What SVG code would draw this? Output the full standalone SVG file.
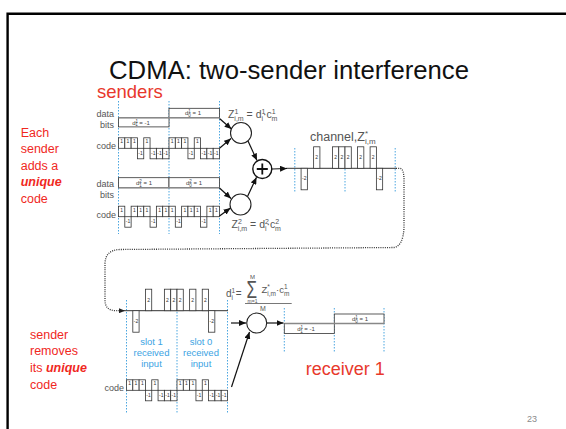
<svg xmlns="http://www.w3.org/2000/svg" width="566" height="429" viewBox="0 0 566 429">
  <style>
    .lbl { font-family: "Liberation Sans", Arial, sans-serif; fill: #555; }
    .red { font-family: "Liberation Sans", Arial, sans-serif; fill: #f0281e; }
    .blue { font-family: "Liberation Sans", Arial, sans-serif; fill: #3ba3e3; font-size: 9.5px; text-anchor: middle; }
    .slotline { stroke: #4ba6e0; stroke-width: 1; stroke-dasharray: 1.5 1.5; fill: none; }
    .box { fill: #fff; stroke: #333; stroke-width: 0.8; }
    .base { stroke: #888; stroke-width: 1.6; }
    .axis { stroke: #333; stroke-width: 1; }
    .tiny { font-family: "Liberation Sans", Arial, sans-serif; font-size: 6px; fill: #444; text-anchor: middle; }
    .arrow { stroke: #111; stroke-width: 1.2; fill: none; marker-end: url(#head); }
    .node { fill: #fff; stroke: #222; stroke-width: 1.1; }
  </style>
  <defs>
    <marker id="head" viewBox="0 0 7 6" refX="7" refY="3" markerWidth="7" markerHeight="6" markerUnits="userSpaceOnUse" orient="auto">
      <path d="M0,0 L7,3 L0,6 z" fill="#111"/>
    </marker>
    <marker id="headS" viewBox="0 0 6 5" refX="6" refY="2.5" markerWidth="6" markerHeight="5" markerUnits="userSpaceOnUse" orient="auto">
      <path d="M0,0 L6,2.5 L0,5 z" fill="#222"/>
    </marker>
    <!-- code chips: +1 above baseline, -1 below -->
    <g id="chipP">
      <rect x="0" y="-10.5" width="6.31" height="10.5" fill="#fff" stroke="#333" stroke-width="0.8"/>
      <text x="3.16" y="-5" font-family="Liberation Sans, Arial, sans-serif" font-size="5" fill="#333" text-anchor="middle">1</text>
    </g>
    <g id="chipN">
      <rect x="0" y="0" width="6.31" height="10.5" fill="#fff" stroke="#333" stroke-width="0.8"/>
      <text x="3.16" y="6.8" font-family="Liberation Sans, Arial, sans-serif" font-size="5" fill="#333" text-anchor="middle">-1</text>
    </g>
    <!-- summed channel chips: +2 / -2 -->
    <g id="barP">
      <rect x="0" y="-21.5" width="6.28" height="21.5" fill="#fff" stroke="#333" stroke-width="0.8"/>
      <text x="3.14" y="-9" font-family="Liberation Sans, Arial, sans-serif" font-size="5" fill="#333" text-anchor="middle">2</text>
    </g>
    <g id="barN">
      <rect x="0" y="0" width="6.28" height="21.5" fill="#fff" stroke="#333" stroke-width="0.8"/>
      <text x="3.14" y="12" font-family="Liberation Sans, Arial, sans-serif" font-size="5" fill="#333" text-anchor="middle">-2</text>
    </g>
  </defs>

  <rect width="566" height="429" fill="#fff"/>
  <path d="M7.6,429 V13.7 H566" stroke="#000" stroke-width="2.4" fill="none"/>

  <text x="289" y="79" text-anchor="middle" font-family="Liberation Sans, Arial, sans-serif" font-size="25" textLength="360" lengthAdjust="spacingAndGlyphs" fill="#111">CDMA: two-sender interference</text>
  <text x="97" y="98" font-family="Liberation Sans, Arial, sans-serif" font-size="18.5" fill="#e8382c">senders</text>

  <g id="note-senders" class="red" font-size="12.5">
    <text x="20.7" y="136.5">Each</text>
    <text x="20.7" y="153">sender</text>
    <text x="20.7" y="169.5">adds a</text>
    <text x="20.7" y="186" font-weight="bold" font-style="italic">unique</text>
    <text x="20.7" y="202.5">code</text>
  </g>
  <g id="note-receiver" class="red" font-size="12.5">
    <text x="30" y="338.5">sender</text>
    <text x="30" y="355.3">removes</text>
    <text x="30" y="372">its <tspan font-weight="bold" font-style="italic">unique</tspan></text>
    <text x="30" y="388.8">code</text>
  </g>

  <!-- slot boundaries -->
  <g id="slot-lines">
    <line class="slotline" x1="118.5" y1="101" x2="118.5" y2="234"/>
    <line class="slotline" x1="169" y1="101" x2="169" y2="234"/>
    <line class="slotline" x1="219.5" y1="101" x2="219.5" y2="234"/>
    <line class="slotline" x1="294.8" y1="148" x2="294.8" y2="193"/>
    <line class="slotline" x1="345" y1="148" x2="345" y2="193"/>
    <line class="slotline" x1="395.2" y1="148" x2="395.2" y2="193"/>
    <line class="slotline" x1="126.5" y1="300" x2="126.5" y2="414"/>
    <line class="slotline" x1="177" y1="300" x2="177" y2="414"/>
    <line class="slotline" x1="227.5" y1="300" x2="227.5" y2="414"/>
    <line class="slotline" x1="284.3" y1="308" x2="284.3" y2="352"/>
    <line class="slotline" x1="334.3" y1="308" x2="334.3" y2="352"/>
    <line class="slotline" x1="384" y1="308" x2="384" y2="352"/>
  </g>

  <!-- sender 1 -->
  <g id="sender1-data">
    <text class="lbl" x="114" y="116.7" font-size="9" text-anchor="end">data</text>
    <text class="lbl" x="114" y="128.3" font-size="9" text-anchor="end">bits</text>
    <rect class="box" x="118.5" y="117.7" width="50.5" height="9.2"/>
    <rect class="box" x="169" y="108.3" width="50.5" height="9.4"/>
    <line class="base" x1="118.5" y1="117.7" x2="219.5" y2="117.7"/>
    <text class="tiny" x="141" y="124.5">d<tspan font-size="4.5" dy="-2">1</tspan><tspan font-size="4.5" dx="-2.5" dy="3.5">1</tspan><tspan dy="-1.5"> = -1</tspan></text>
    <text class="tiny" x="193" y="115">d<tspan font-size="4.5" dy="-2">1</tspan><tspan font-size="4.5" dx="-2.5" dy="3.5">0</tspan><tspan dy="-1.5"> = 1</tspan></text>
  </g>
  <g id="sender1-code">
    <text class="lbl" x="116" y="149.3" font-size="9" text-anchor="end">code</text>
    <use href="#chipP" x="118.5" y="148.3"/><use href="#chipP" x="124.81" y="148.3"/>
    <use href="#chipP" x="131.13" y="148.3"/><use href="#chipN" x="137.44" y="148.3"/>
    <use href="#chipP" x="143.75" y="148.3"/><use href="#chipN" x="150.06" y="148.3"/>
    <use href="#chipN" x="156.38" y="148.3"/><use href="#chipN" x="162.69" y="148.3"/>
    <use href="#chipP" x="169" y="148.3"/><use href="#chipP" x="175.31" y="148.3"/>
    <use href="#chipP" x="181.63" y="148.3"/><use href="#chipN" x="187.94" y="148.3"/>
    <use href="#chipP" x="194.25" y="148.3"/><use href="#chipN" x="200.56" y="148.3"/>
    <use href="#chipN" x="206.88" y="148.3"/><use href="#chipN" x="213.19" y="148.3"/>
  </g>

  <!-- sender 2 -->
  <g id="sender2-data">
    <text class="lbl" x="114" y="186.7" font-size="9" text-anchor="end">data</text>
    <text class="lbl" x="114" y="198.3" font-size="9" text-anchor="end">bits</text>
    <rect class="box" x="118.5" y="177.7" width="50.5" height="10"/>
    <rect class="box" x="169" y="177.7" width="50.5" height="10"/>
    <line class="base" x1="118.5" y1="187.7" x2="219.5" y2="187.7"/>
    <text class="tiny" x="144" y="185">d<tspan font-size="4.5" dy="-2">2</tspan><tspan font-size="4.5" dx="-2.5" dy="3.5">1</tspan><tspan dy="-1.5"> = 1</tspan></text>
    <text class="tiny" x="194" y="185">d<tspan font-size="4.5" dy="-2">2</tspan><tspan font-size="4.5" dx="-2.5" dy="3.5">0</tspan><tspan dy="-1.5"> = 1</tspan></text>
  </g>
  <g id="sender2-code">
    <text class="lbl" x="116" y="218.3" font-size="9" text-anchor="end">code</text>
    <use href="#chipP" x="118.5" y="216.7"/><use href="#chipN" x="124.81" y="216.7"/>
    <use href="#chipP" x="131.13" y="216.7"/><use href="#chipP" x="137.44" y="216.7"/>
    <use href="#chipP" x="143.75" y="216.7"/><use href="#chipN" x="150.06" y="216.7"/>
    <use href="#chipP" x="156.38" y="216.7"/><use href="#chipP" x="162.69" y="216.7"/>
    <use href="#chipP" x="169" y="216.7"/><use href="#chipN" x="175.31" y="216.7"/>
    <use href="#chipP" x="181.63" y="216.7"/><use href="#chipP" x="187.94" y="216.7"/>
    <use href="#chipP" x="194.25" y="216.7"/><use href="#chipN" x="200.56" y="216.7"/>
    <use href="#chipP" x="206.88" y="216.7"/><use href="#chipP" x="213.19" y="216.7"/>
  </g>

  <!-- multipliers and adder -->
  <g id="mult1">
    <circle class="node" cx="241" cy="133" r="10.5"/>
    <text class="lbl" x="228" y="118" font-size="10.5">Z<tspan font-size="7" dy="-4">1</tspan><tspan font-size="7" dx="-4" dy="7">i,m</tspan><tspan dy="-3"> = d</tspan><tspan font-size="7" dy="-4">1</tspan><tspan font-size="7" dx="-4" dy="7">i</tspan><tspan dy="-3">·c</tspan><tspan font-size="7" dy="-4">1</tspan><tspan font-size="7" dx="-4" dy="7">m</tspan></text>
  </g>
  <g id="mult2">
    <circle class="node" cx="240.5" cy="204.5" r="10.5"/>
    <text class="lbl" x="231.5" y="228.3" font-size="10.5">Z<tspan font-size="7" dy="-4">2</tspan><tspan font-size="7" dx="-4" dy="7">i,m</tspan><tspan dy="-3"> = d</tspan><tspan font-size="7" dy="-4">2</tspan><tspan font-size="7" dx="-4" dy="7">i</tspan><tspan dy="-3">·c</tspan><tspan font-size="7" dy="-4">2</tspan><tspan font-size="7" dx="-4" dy="7">m</tspan></text>
  </g>
  <g id="adder">
    <circle cx="262.3" cy="169" r="9.5" fill="#fff" stroke="#111" stroke-width="1.4"/>
    <path d="M256.8,169 H267.8 M262.3,163.5 V174.5" stroke="#111" stroke-width="1.8"/>
  </g>

  <!-- channel -->
  <g id="channel">
    <text class="lbl" x="310" y="141" font-size="12.5">channel,Z<tspan font-size="8" dy="-5">*</tspan><tspan font-size="8" dx="-3" dy="8">i,m</tspan></text>
    <line class="axis" x1="286" y1="168.3" x2="396" y2="168.3"/>
    <use href="#barN" x="301.08" y="168.3"/>
    <use href="#barP" x="313.63" y="168.3"/>
    <use href="#barP" x="332.45" y="168.3"/>
    <use href="#barP" x="338.73" y="168.3"/>
    <use href="#barP" x="345" y="168.3"/>
    <use href="#barP" x="357.55" y="168.3"/>
    <use href="#barP" x="370.1" y="168.3"/>
    <use href="#barN" x="376.38" y="168.3"/>
  </g>

  <!-- receiver input -->
  <g id="receiver-input">
    <line class="axis" x1="124" y1="310.7" x2="228" y2="310.7"/>
    <use href="#barN" x="132.81" y="310.7"/>
    <use href="#barP" x="145.44" y="310.7"/>
    <use href="#barP" x="164.38" y="310.7"/>
    <use href="#barP" x="170.69" y="310.7"/>
    <use href="#barP" x="177" y="310.7"/>
    <use href="#barP" x="189.63" y="310.7"/>
    <use href="#barP" x="202.25" y="310.7"/>
    <use href="#barN" x="208.56" y="310.7"/>
    <text class="blue" x="151.5" y="345">slot 1</text>
    <text class="blue" x="151.5" y="356">received</text>
    <text class="blue" x="151.5" y="366.5">input</text>
    <text class="blue" x="201" y="345">slot 0</text>
    <text class="blue" x="201" y="356">received</text>
    <text class="blue" x="201" y="366.5">input</text>
  </g>
  <g id="receiver-code">
    <text class="lbl" x="124" y="391" font-size="9" text-anchor="end">code</text>
    <use href="#chipP" x="126.5" y="390.3"/><use href="#chipP" x="132.81" y="390.3"/>
    <use href="#chipP" x="139.13" y="390.3"/><use href="#chipN" x="145.44" y="390.3"/>
    <use href="#chipP" x="151.75" y="390.3"/><use href="#chipN" x="158.06" y="390.3"/>
    <use href="#chipN" x="164.38" y="390.3"/><use href="#chipN" x="170.69" y="390.3"/>
    <use href="#chipP" x="177" y="390.3"/><use href="#chipP" x="183.31" y="390.3"/>
    <use href="#chipP" x="189.63" y="390.3"/><use href="#chipN" x="195.94" y="390.3"/>
    <use href="#chipP" x="202.25" y="390.3"/><use href="#chipN" x="208.56" y="390.3"/>
    <use href="#chipN" x="214.88" y="390.3"/><use href="#chipN" x="221.19" y="390.3"/>
  </g>

  <!-- decoder -->
  <g id="decoder">
    <circle class="node" cx="256.7" cy="323" r="10"/>
    <text class="lbl" x="226" y="297" font-size="10">d<tspan font-size="6.5" dy="-4">1</tspan><tspan font-size="6.5" dx="-3.6" dy="6.5">i</tspan><tspan dy="-2.5"> =</tspan></text>
    <text class="lbl" x="252.5" y="279" font-size="6" text-anchor="middle">M</text>
    <text class="lbl" transform="translate(246.5,298) scale(0.95,1.3)" font-size="18">Σ</text>
    <text class="lbl" x="252.5" y="302.8" font-size="5" text-anchor="middle">m=1</text>
    <text class="lbl" x="261.5" y="293" font-size="9.5">Z<tspan font-size="6.5" dy="-4">*</tspan><tspan font-size="6.5" dx="-2.5" dy="6.5">i,m</tspan><tspan dy="-2.5">·c</tspan><tspan font-size="6.5" dy="-4">1</tspan><tspan font-size="6.5" dx="-3.6" dy="6.5">m</tspan></text>
    <line x1="245" y1="303.5" x2="291.7" y2="303.5" stroke="#555" stroke-width="0.8"/>
    <text class="lbl" x="263" y="311" font-size="7" text-anchor="middle">M</text>
  </g>

  <!-- receiver output -->
  <g id="receiver-output">
    <rect class="box" x="284.3" y="323.5" width="50" height="10"/>
    <rect class="box" x="334.3" y="314" width="49.7" height="9.5"/>
    <line class="base" x1="284.3" y1="323.5" x2="384" y2="323.5"/>
    <text class="tiny" x="306" y="331">d<tspan font-size="4.5" dy="-2">1</tspan><tspan font-size="4.5" dx="-2.5" dy="3.5">1</tspan><tspan dy="-1.5"> = -1</tspan></text>
    <text class="tiny" x="360" y="321">d<tspan font-size="4.5" dy="-2">1</tspan><tspan font-size="4.5" dx="-2.5" dy="3.5">0</tspan><tspan dy="-1.5"> = 1</tspan></text>
    <text x="305.7" y="375" font-family="Liberation Sans, Arial, sans-serif" font-size="18" fill="#e8382c">receiver 1</text>
  </g>

  <g id="connectors">
    <line class="arrow" x1="219.5" y1="118.5" x2="231.5" y2="129"/>
    <line class="arrow" x1="219.5" y1="148.3" x2="231" y2="138.5"/>
    <line class="arrow" x1="219.5" y1="188" x2="231" y2="198.5"/>
    <line class="arrow" x1="219.5" y1="216" x2="230.5" y2="208"/>
    <line class="arrow" x1="248" y1="141" x2="257" y2="160.5"/>
    <line class="arrow" x1="247.5" y1="196.5" x2="256.5" y2="177.3"/>
    <line class="arrow" x1="272" y1="169" x2="287" y2="168.5"/>
    <path d="M396,168.3 L400,168.3 Q404,169 404,180 L404,228 Q403,246 394,247.5 L120,249.5 Q105,250 105,264 L105,300 Q105,310.7 116,310.7 L125,310.7" fill="none" stroke="#333" stroke-width="1.3" stroke-dasharray="1 1.2" marker-end="url(#headS)"/>
    <line class="arrow" x1="231" y1="323" x2="246" y2="323"/>
    <line class="arrow" x1="267" y1="323" x2="283.5" y2="323"/>
    <line class="arrow" x1="231.5" y1="387" x2="249.5" y2="332"/>
  </g>

  <text x="527" y="422" font-family="Liberation Sans, Arial, sans-serif" font-size="9" fill="#8a8a8a">23</text>
</svg>
